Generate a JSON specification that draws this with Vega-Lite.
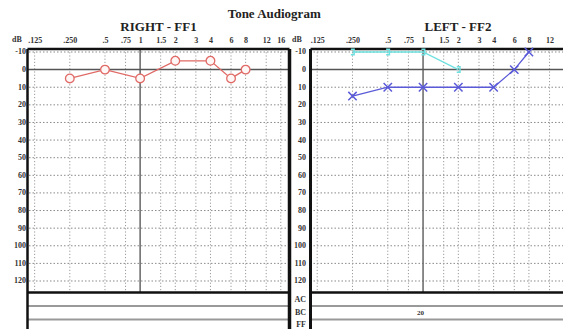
{
  "$schema": "https://vega.github.io/schema/vega-lite/v6.json",
  "background": "white",
  "padding": {"left": 11.5, "top": 8, "right": 0, "bottom": 0},
  "title": {"text": "Tone Audiogram", "font": "Liberation Serif", "fontSize": 13, "fontWeight": "bold", "color": "#222", "anchor": "middle", "dx": -14, "offset": 0},
  "config": {"font": "Liberation Serif", "view": {"stroke": null}, "concat": {"spacing": 0}},
  "datasets": {
    "one": [{}],
    "freqs": [{"f": 0.125}, {"f": 0.25}, {"f": 0.5}, {"f": 0.75}, {"f": 1.5}, {"f": 2}, {"f": 3}, {"f": 4}, {"f": 6}, {"f": 8}, {"f": 12}, {"f": 16}],
    "levels": [{"db": -10}, {"db": 10}, {"db": 20}, {"db": 30}, {"db": 40}, {"db": 50}, {"db": 60}, {"db": 70}, {"db": 80}, {"db": 90}, {"db": 100}, {"db": 110}, {"db": 120}],
    "right": [
      {"f": 0.25, "db": 5}, {"f": 0.5, "db": 0}, {"f": 1, "db": 5}, {"f": 2, "db": -5}, {"f": 4, "db": -5}, {"f": 6, "db": 5}, {"f": 8, "db": 0}
    ],
    "left": [
      {"series": "AC", "f": 0.25, "db": 15}, {"series": "AC", "f": 0.5, "db": 10}, {"series": "AC", "f": 1, "db": 10}, {"series": "AC", "f": 2, "db": 10}, {"series": "AC", "f": 4, "db": 10}, {"series": "AC", "f": 6, "db": 0}, {"series": "AC", "f": 8, "db": -10},
      {"series": "BC", "f": 0.25, "db": -10}, {"series": "BC", "f": 0.5, "db": -10}, {"series": "BC", "f": 1, "db": -10}, {"series": "BC", "f": 2, "db": 0}
    ],
    "table": [{"row": "BC", "f": 0.95, "text": "20"}]
  },
  "hconcat": [
    {
      "width": 262,
      "height": 280,
      "title": {"text": "RIGHT - FF1", "font": "Liberation Serif", "fontSize": 13, "fontWeight": "bold", "color": "#222", "offset": 1},
      "layer": [
        {
          "data": {"name": "levels"},
          "mark": {"type": "rule", "color": "#8a8a8a", "strokeDash": [1.5, 2], "strokeWidth": 1},
          "encoding": {"y": {"field": "db", "type": "quantitative", "scale": {"domain": [-11.7, 147.25], "reverse": true, "nice": false, "zero": false},
              "axis": {"values": [-10, 0, 10, 20, 30, 40, 50, 60, 70, 80, 90, 100, 110, 120], "tickCount": 60, "labelExpr": "toString(datum.value)", "labelFont": "Liberation Serif", "labelFontWeight": "bold", "labelFontSize": 8, "labelColor": "#333", "ticks": false, "domain": false, "grid": false, "labelPadding": 2, "labelOverlap": false, "title": "dB", "titleAngle": 0, "titleFont": "Liberation Serif", "titleFontWeight": "bold", "titleFontSize": 8, "titleColor": "#333", "titleX": -11, "titleY": -10, "titleAlign": "center", "titleBaseline": "middle"}}}
        },
        {
          "data": {"name": "freqs"},
          "mark": {"type": "rule", "color": "#9a9a9a", "strokeDash": [1.2, 2], "strokeWidth": 1},
          "encoding": {
            "x": {"field": "f", "type": "quantitative", "scale": {"type": "log", "base": 2, "domain": [0.1086, 19.0], "nice": false},
              "axis": {"orient": "top", "values": [0.125, 0.25, 0.5, 0.75, 1, 1.5, 2, 3, 4, 6, 8, 12, 16], "tickCount": 60, "labelExpr": "datum.value == 0.125 ? '.125' : datum.value == 0.25 ? '.250' : datum.value == 0.5 ? '.5' : datum.value == 0.75 ? '.75' : format(datum.value, '~g')", "labelFont": "Liberation Serif", "labelFontWeight": "bold", "labelFontSize": 8, "labelColor": "#333", "ticks": false, "domain": false, "grid": false, "labelPadding": 5, "labelOverlap": false, "labelFlush": false, "title": null}},
            "y": {"datum": -11.7, "type": "quantitative"},
            "y2": {"datum": 126.6}
          }
        },
        {
          "data": {"name": "one"},
          "mark": {"type": "rule", "color": "#666", "strokeWidth": 1.5},
          "encoding": {"x": {"datum": 1, "type": "quantitative"}, "y": {"datum": -11.7, "type": "quantitative"}, "y2": {"datum": 126.6}}
        },
        {
          "data": {"name": "one"},
          "mark": {"type": "rule", "color": "#555", "strokeWidth": 1.5},
          "encoding": {"y": {"datum": 0, "type": "quantitative"}}
        },
        {
          "data": {"name": "one"},
          "mark": {"type": "rule", "color": "#999", "strokeWidth": 2},
          "encoding": {"y": {"datum": 134.2, "type": "quantitative"}}
        },
        {
          "data": {"name": "one"},
          "mark": {"type": "rule", "color": "#999", "strokeWidth": 2},
          "encoding": {"y": {"datum": 141.8, "type": "quantitative"}}
        },
        {
          "data": {"name": "one"},
          "mark": {"type": "rule", "color": "#111", "strokeWidth": 2.5},
          "encoding": {"y": {"datum": 126.6, "type": "quantitative"}}
        },
        {
          "data": {"name": "one"},
          "mark": {"type": "rule", "color": "#111", "strokeWidth": 2.5},
          "encoding": {"y": {"datum": -11.7, "type": "quantitative"}}
        },
        {
          "data": {"name": "one"},
          "mark": {"type": "rule", "color": "#111", "strokeWidth": 2.5},
          "encoding": {"x": {"datum": 0.1086, "type": "quantitative"}}
        },
        {
          "data": {"name": "one"},
          "mark": {"type": "rule", "color": "#111", "strokeWidth": 3.5},
          "encoding": {"x": {"datum": 19.0, "type": "quantitative"}}
        },
        {
          "data": {"name": "right"},
          "mark": {"type": "line", "color": "#e06a66", "strokeWidth": 1.3},
          "encoding": {
            "x": {"field": "f", "type": "quantitative"},
            "y": {"field": "db", "type": "quantitative"}
          }
        },
        {
          "data": {"name": "right"},
          "mark": {"type": "point", "shape": "circle", "filled": true, "fill": "#fff6f6", "stroke": "#e06a66", "strokeWidth": 1.3, "size": 75, "opacity": 1},
          "encoding": {
            "x": {"field": "f", "type": "quantitative"},
            "y": {"field": "db", "type": "quantitative"}
          }
        }
      ]
    },
    {
      "width": 253,
      "height": 280,
      "title": {"text": "LEFT - FF2", "font": "Liberation Serif", "fontSize": 13, "fontWeight": "bold", "color": "#222", "offset": 1, "dx": 21},
      "layer": [
        {
          "data": {"name": "levels"},
          "mark": {"type": "rule", "color": "#8a8a8a", "strokeDash": [1.5, 2], "strokeWidth": 1},
          "encoding": {"y": {"field": "db", "type": "quantitative", "scale": {"domain": [-11.7, 147.25], "reverse": true, "nice": false, "zero": false},
              "axis": {"values": [-10, 0, 10, 20, 30, 40, 50, 60, 70, 80, 90, 100, 110, 120, 130.4, 137.9, 144.6], "tickCount": 60, "labelExpr": "datum.value > 125 ? (datum.value < 134 ? 'AC' : datum.value < 141 ? 'BC' : 'FF') : toString(datum.value)", "labelFont": "Liberation Serif", "labelFontWeight": "bold", "labelFontSize": 8, "labelColor": "#333", "ticks": false, "domain": false, "grid": false, "labelPadding": 5, "labelOverlap": false, "title": "dB", "titleAngle": 0, "titleFont": "Liberation Serif", "titleFontWeight": "bold", "titleFontSize": 8, "titleColor": "#333", "titleX": -14, "titleY": -10, "titleAlign": "center", "titleBaseline": "middle"}}}
        },
        {
          "data": {"name": "freqs"},
          "mark": {"type": "rule", "color": "#9a9a9a", "strokeDash": [1.2, 2], "strokeWidth": 1},
          "encoding": {
            "x": {"field": "f", "type": "quantitative", "scale": {"type": "log", "base": 2, "domain": [0.1096, 15.78], "nice": false},
              "axis": {"orient": "top", "values": [0.125, 0.25, 0.5, 0.75, 1, 1.5, 2, 3, 4, 6, 8, 12], "tickCount": 60, "labelExpr": "datum.value == 0.125 ? '.125' : datum.value == 0.25 ? '.250' : datum.value == 0.5 ? '.5' : datum.value == 0.75 ? '.75' : format(datum.value, '~g')", "labelFont": "Liberation Serif", "labelFontWeight": "bold", "labelFontSize": 8, "labelColor": "#333", "ticks": false, "domain": false, "grid": false, "labelPadding": 5, "labelOverlap": false, "labelFlush": false, "title": null}},
            "y": {"datum": -11.7, "type": "quantitative"},
            "y2": {"datum": 126.6}
          }
        },
        {
          "data": {"name": "one"},
          "mark": {"type": "rule", "color": "#666", "strokeWidth": 1.5},
          "encoding": {"x": {"datum": 1, "type": "quantitative"}, "y": {"datum": -11.7, "type": "quantitative"}, "y2": {"datum": 126.6}}
        },
        {
          "data": {"name": "one"},
          "mark": {"type": "rule", "color": "#555", "strokeWidth": 1.5},
          "encoding": {"y": {"datum": 0, "type": "quantitative"}}
        },
        {
          "data": {"name": "one"},
          "mark": {"type": "rule", "color": "#999", "strokeWidth": 2},
          "encoding": {"y": {"datum": 134.2, "type": "quantitative"}}
        },
        {
          "data": {"name": "one"},
          "mark": {"type": "rule", "color": "#999", "strokeWidth": 2},
          "encoding": {"y": {"datum": 141.8, "type": "quantitative"}}
        },
        {
          "data": {"name": "one"},
          "mark": {"type": "rule", "color": "#111", "strokeWidth": 2.5},
          "encoding": {"y": {"datum": 126.6, "type": "quantitative"}}
        },
        {
          "data": {"name": "one"},
          "mark": {"type": "rule", "color": "#111", "strokeWidth": 2.5},
          "encoding": {"y": {"datum": -11.7, "type": "quantitative"}}
        },
        {
          "data": {"name": "one"},
          "mark": {"type": "rule", "color": "#111", "strokeWidth": 3},
          "encoding": {"x": {"datum": 0.1096, "type": "quantitative"}}
        },
        {
          "data": {"name": "table"},
          "mark": {"type": "text", "font": "Liberation Serif", "fontWeight": "bold", "fontSize": 7, "color": "#333"},
          "encoding": {
            "x": {"field": "f", "type": "quantitative"},
            "y": {"datum": 137.9, "type": "quantitative"},
            "text": {"field": "text"}
          }
        },
        {
          "data": {"name": "left"},
          "mark": {"type": "line", "strokeWidth": 1.3},
          "encoding": {
            "x": {"field": "f", "type": "quantitative"},
            "y": {"field": "db", "type": "quantitative"},
            "color": {"field": "series", "type": "nominal", "scale": {"domain": ["AC", "BC"], "range": ["#5a5ad8", "#6fe0e0"]}, "legend": null}
          }
        },
        {
          "data": {"name": "left"},
          "mark": {"type": "point", "filled": false, "strokeWidth": 1.5, "opacity": 1},
          "encoding": {
            "x": {"field": "f", "type": "quantitative"},
            "y": {"field": "db", "type": "quantitative"},
            "color": {"field": "series", "type": "nominal", "legend": null},
            "shape": {"field": "series", "type": "nominal", "scale": {"domain": ["AC", "BC"], "range": ["M-1,-1L1,1M-1,1L1,-1", "M-0.6,-1L0.6,-1L0.6,1L-0.6,1"]}, "legend": null},
            "size": {"field": "series", "type": "nominal", "scale": {"domain": ["AC", "BC"], "range": [70, 30]}, "legend": null}
          }
        }
      ]
    }
  ]
}
